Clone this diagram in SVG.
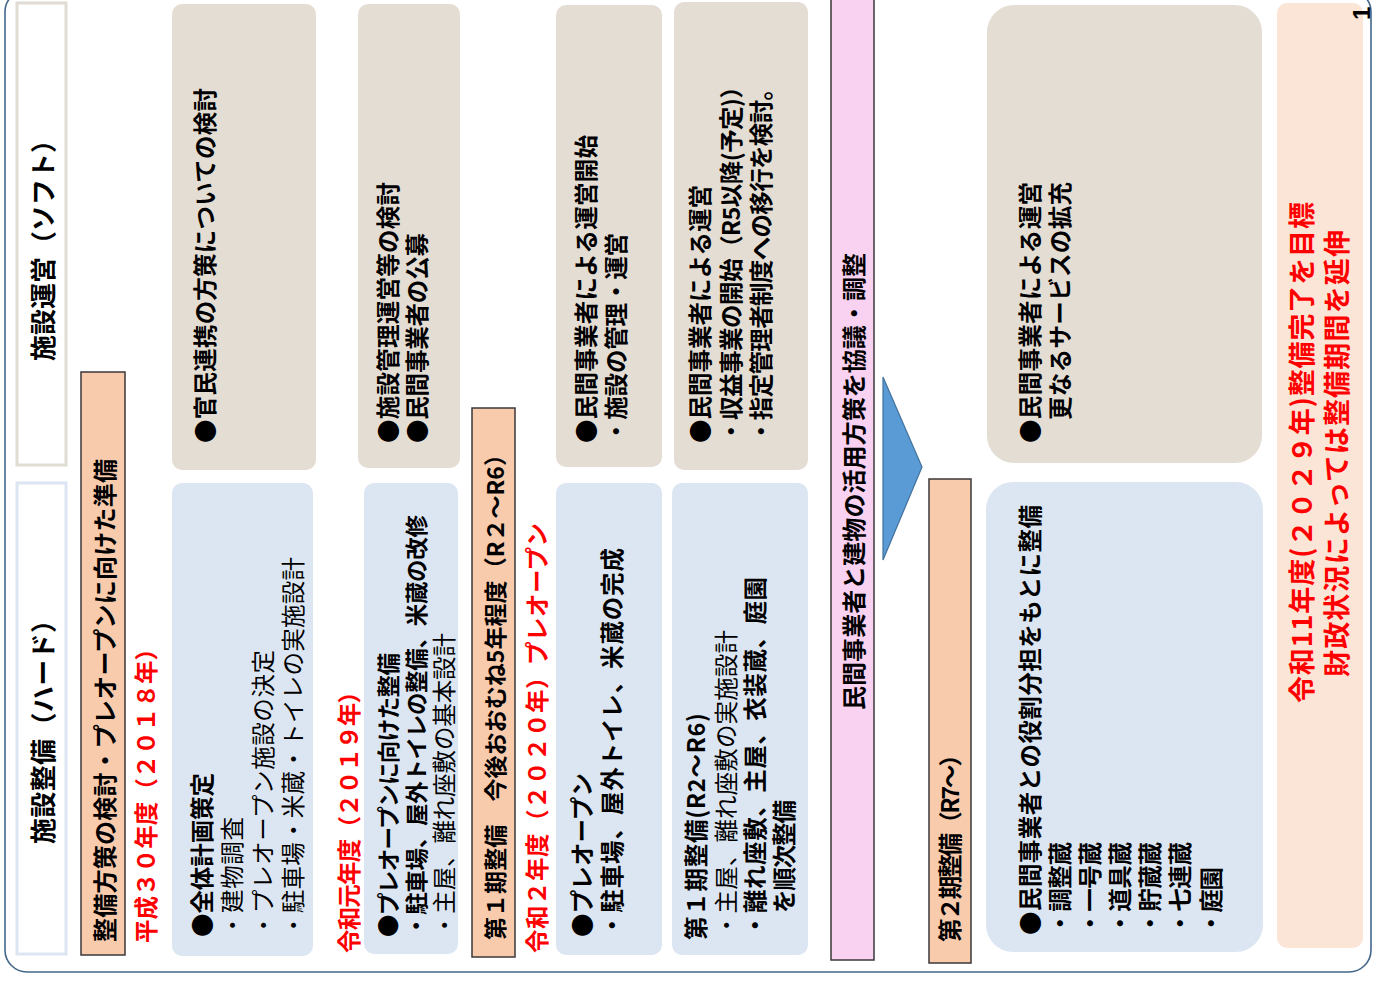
<svg xmlns="http://www.w3.org/2000/svg" width="1373" height="982" viewBox="0 0 1373 982">
<defs>
<style>
.t{font-family:"Noto Sans CJK JP","Noto Sans",sans-serif;font-size:23.5px;dominant-baseline:central;fill:#000}
.b{font-weight:700}
.n{font-weight:400}
.red{fill:#ff0000}
.beige{fill:#e4ddd4;stroke:none}
.blue{fill:#dce6f2;stroke:none}
.orange{fill:#f8cbad;stroke:#3b3838;stroke-width:1.5}
.pink{fill:#f9d1f1;stroke:#3b3838;stroke-width:1.5}
</style>
</defs>
<rect width="1373" height="982" fill="#ffffff"/>
<rect id="frame" x="5" y="-10" width="1366" height="982" rx="22" fill="none" stroke="#44678a" stroke-width="1.6"/>

<g id="header-soft">
<rect x="17" y="3" width="49" height="462" fill="#ffffff" stroke="#e0dcd4" stroke-width="3"/>
<text class="t b" style="font-size:26px" transform="translate(41,361) rotate(-90)" textLength="234">施設運営（ソフト）</text>
</g>
<g id="header-hard">
<rect x="17" y="483" width="49" height="471" fill="#ffffff" stroke="#dce6f2" stroke-width="3"/>
<text class="t b" style="font-size:26px" transform="translate(41,844) rotate(-90)" textLength="237">施設整備（ハード）</text>
</g>

<g id="bar-prep">
<rect class="orange" x="81" y="372" width="44" height="583"/>
<text class="t b" style="font-size:24px" transform="translate(103,942) rotate(-90)" textLength="483">整備方策の検討・プレオープンに向けた準備</text>
</g>
<g id="year-2018">
<text class="t b red" transform="translate(145,943) rotate(-90)" textLength="306">平成３０年度（２０１８年）</text>
</g>

<g id="soft-1">
<rect class="beige" x="172" y="4" width="144" height="466" rx="10"/>
<text class="t b" transform="translate(204,443) rotate(-90)" textLength="355">●官民連携の方策についての検討</text>
</g>
<g id="hard-1">
<rect class="blue" x="172" y="483" width="141" height="473" rx="10"/>
<text class="t b" transform="translate(201,937) rotate(-90)" textLength="164">●全体計画策定</text>
<text class="t n" transform="translate(231,937) rotate(-90)" textLength="120">・建物調査</text>
<text class="t n" transform="translate(262,937) rotate(-90)" textLength="287">・プレオープン施設の決定</text>
<text class="t n" transform="translate(292,937) rotate(-90)" textLength="380">・駐車場・米蔵・トイレの実施設計</text>
</g>

<g id="year-2019">
<text class="t b red" transform="translate(348,953) rotate(-90)" textLength="273">令和元年度（２０１９年）</text>
</g>
<g id="soft-2">
<rect class="beige" x="358" y="4" width="102" height="464" rx="10"/>
<text class="t b" transform="translate(387,443) rotate(-90)" textLength="261">●施設管理運営等の検討</text>
<text class="t b" transform="translate(416,443) rotate(-90)" textLength="210">●民間事業者の公募</text>
</g>
<g id="hard-2">
<rect class="blue" x="364" y="483" width="94" height="471" rx="10"/>
<text class="t b" style="font-size:22.5px" transform="translate(387,937) rotate(-90)" textLength="284">●プレオープンに向けた整備</text>
<text class="t b" style="font-size:22.5px" transform="translate(415,937) rotate(-90)" textLength="422">・駐車場、屋外トイレの整備、米蔵の改修</text>
<text class="t n" transform="translate(443,937) rotate(-90)" textLength="304">・主屋、離れ座敷の基本設計</text>
</g>

<g id="bar-phase1">
<rect class="orange" x="472" y="408" width="43" height="549"/>
<text class="t b" style="font-size:23px" transform="translate(494,940) rotate(-90)" textLength="497">第１期整備　今後おおむね5年程度（R２～R6）</text>
</g>
<g id="year-2020">
<text class="t b red" transform="translate(536,953) rotate(-90)" textLength="430">令和２年度（２０２０年）プレオープン</text>
</g>

<g id="soft-3">
<rect class="beige" x="556" y="5" width="106" height="462" rx="10"/>
<text class="t b" transform="translate(585,443) rotate(-90)" textLength="308">●民間事業者による運営開始</text>
<text class="t b" transform="translate(615,443) rotate(-90)" textLength="210">・施設の管理・運営</text>
</g>
<g id="hard-3">
<rect class="blue" x="556" y="483" width="106" height="472" rx="10"/>
<text class="t b" transform="translate(581,937) rotate(-90)" textLength="164">●プレオープン</text>
<text class="t b" transform="translate(611,937) rotate(-90)" textLength="389">・駐車場、屋外トイレ、米蔵の完成</text>
</g>

<g id="soft-4">
<rect class="beige" x="674" y="2" width="134" height="468" rx="10"/>
<text class="t b" transform="translate(699,443) rotate(-90)" textLength="258">●民間事業者による運営</text>
<text class="t b" transform="translate(730,443) rotate(-90)" textLength="368">・収益事業の開始（R5以降(予定)）</text>
<text class="t b" transform="translate(760,443) rotate(-90)" textLength="366">・指定管理者制度への移行を検討。</text>
</g>
<g id="hard-4">
<rect class="blue" x="672" y="483" width="136" height="472" rx="10"/>
<text class="t b" transform="translate(695,940) rotate(-90)" textLength="227">第１期整備(R2～R6)</text>
<text class="t n" transform="translate(725,937) rotate(-90)" textLength="307">・主屋、離れ座敷の実施設計</text>
<text class="t b" transform="translate(754,937) rotate(-90)" textLength="360">・離れ座敷、主屋、衣装蔵、庭園</text>
<text class="t b" transform="translate(783,913) rotate(-90)" textLength="113">を順次整備</text>
</g>

<g id="bar-discussion">
<rect class="pink" x="831" y="-5" width="43" height="965"/>
<text class="t b" style="font-size:24px" transform="translate(852,710) rotate(-90)" textLength="457">民間事業者と建物の活用方策を協議・調整</text>
</g>

<g id="connectors">
<polygon points="883,377 922,467 883,560" fill="#5b9bd5" stroke="#41719c" stroke-width="1.2"/>
</g>

<g id="bar-phase2">
<rect class="orange" x="929" y="479" width="42" height="484"/>
<text class="t b" transform="translate(949,942) rotate(-90)" textLength="199">第２期整備（R7～）</text>
</g>

<g id="soft-5">
<rect class="beige" x="987" y="5" width="275" height="458" rx="27"/>
<text class="t b" transform="translate(1029,443) rotate(-90)" textLength="261">●民間事業者による運営</text>
<text class="t b" transform="translate(1059,420) rotate(-90)" textLength="238">更なるサービスの拡充</text>
</g>
<g id="hard-5">
<rect class="blue" x="986" y="482" width="277" height="470" rx="27"/>
<text class="t b" transform="translate(1029,935) rotate(-90)" textLength="430">●民間事業者との役割分担をもとに整備</text>
<text class="t b" transform="translate(1059,935) rotate(-90)" textLength="93">・調整蔵</text>
<text class="t b" transform="translate(1089,935) rotate(-90)" textLength="93">・一号蔵</text>
<text class="t b" transform="translate(1119,935) rotate(-90)" textLength="93">・道具蔵</text>
<text class="t b" transform="translate(1149,935) rotate(-90)" textLength="93">・貯蔵蔵</text>
<text class="t b" transform="translate(1179,935) rotate(-90)" textLength="93">・七連蔵</text>
<text class="t b" transform="translate(1210,935) rotate(-90)" textLength="68">・庭園</text>
</g>

<g id="target">
<rect x="1277" y="3" width="86" height="945" rx="10" fill="#fbe5d6"/>
<text class="t b red" style="font-size:27px" transform="translate(1300,703) rotate(-90)" textLength="501">令和11年度(２０２９年)整備完了を目標</text>
<text class="t b red" style="font-size:27px" transform="translate(1335,677) rotate(-90)" textLength="447">財政状況によっては整備期間を延伸</text>
</g>

<g id="page-number">
<text font-family="Liberation Sans, sans-serif" font-weight="700" font-size="24" fill="#000" transform="translate(1370,20) rotate(-90)">1</text>
</g>
</svg>
